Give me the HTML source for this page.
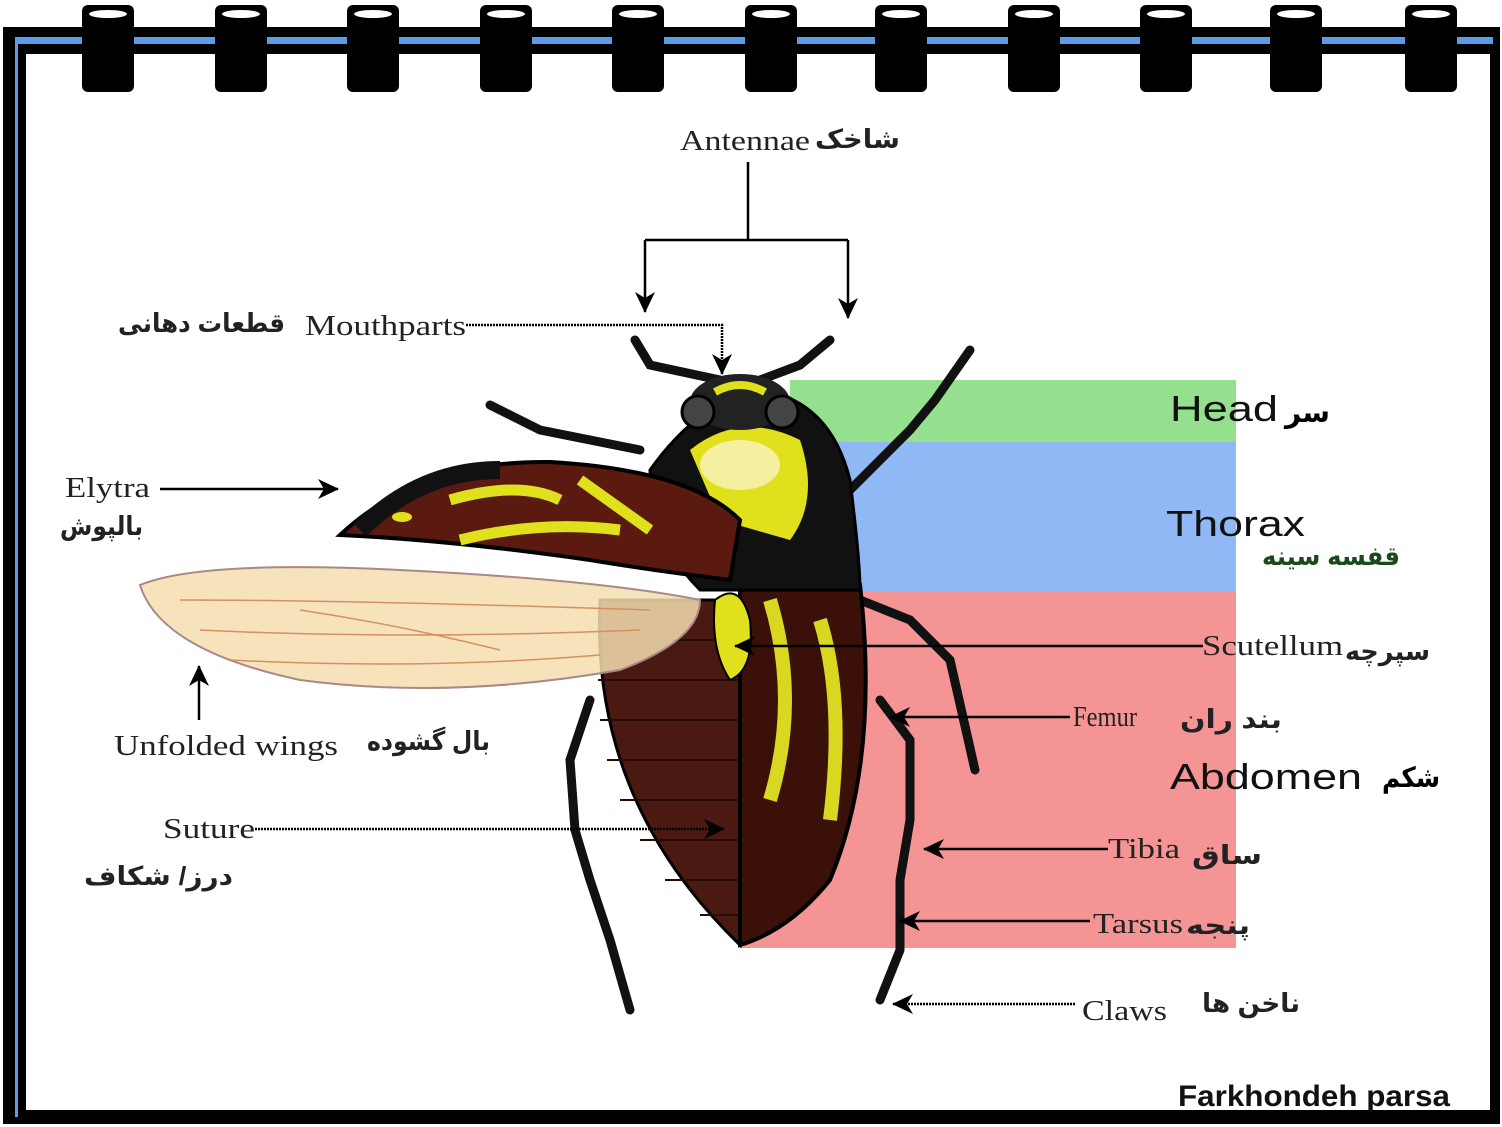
<!DOCTYPE html>
<html><head><meta charset="utf-8"><style>
html,body{margin:0;padding:0;background:#fff;width:1502px;height:1127px;overflow:hidden}
svg{display:block}
text{font-family:"Liberation Serif",serif;}
.fa{font-family:"Liberation Sans","DejaVu Sans",sans-serif;font-weight:bold}
.ss{font-family:"Liberation Sans",sans-serif}
</style></head><body>
<svg width="1502" height="1127" viewBox="0 0 1502 1127" xmlns="http://www.w3.org/2000/svg">
<defs>
<marker id="ar" markerWidth="22" markerHeight="22" refX="20" refY="11" orient="auto" markerUnits="userSpaceOnUse">
<path d="M0,1 L21,11 L0,21 L6,11 Z" fill="#000"/></marker>
</defs>
<rect x="0" y="0" width="1502" height="1127" fill="#fff"/>
<path d="M3,27 H1500 V1124 H3 Z M26,54 V1110 H1490 V54 Z" fill="#000" fill-rule="evenodd"/>
<rect x="15" y="37" width="1478" height="7" fill="#5b9bea"/>
<rect x="15" y="37" width="3" height="1080" fill="#5b9bea"/>
<g fill="#000">
<g id="r"><rect x="82" y="5" width="52" height="87" rx="6"/><ellipse cx="108" cy="14" rx="19" ry="4" fill="#fff"/></g>
<use href="#r" x="133"/><use href="#r" x="265"/><use href="#r" x="398"/><use href="#r" x="530"/>
<use href="#r" x="663"/><use href="#r" x="793"/><use href="#r" x="926"/><use href="#r" x="1058"/>
<use href="#r" x="1188"/><use href="#r" x="1323"/>
</g>
<rect x="790" y="380" width="446" height="62" fill="#95e08f"/>
<rect x="790" y="442" width="446" height="150" fill="#8fb8f5"/>
<rect x="740" y="592" width="496" height="356" fill="#f59494"/>
<g stroke="#111" stroke-width="9" fill="none" stroke-linecap="round">
<path d="M720,380 L650,365 L635,340"/>
<path d="M760,380 L800,365 L830,340"/>
<path d="M640,450 L540,430 L490,405"/>
<path d="M850,490 L910,430 L935,400 L970,350"/>
<path d="M860,600 L910,620 L950,660 L975,770"/>
<path d="M880,700 L910,740 L910,820 L900,880 L900,950 L880,1000"/>
<path d="M590,700 L570,760 L575,830 L590,880 L610,940 L630,1010"/>
</g>
<path d="M600,600 Q590,800 740,945 L740,600 Z" fill="#4a1a12" stroke="#000" stroke-width="3"/>
<g stroke="#2a0a05" stroke-width="2">
<line x1="600" y1="640" x2="740" y2="640"/><line x1="598" y1="680" x2="740" y2="680"/><line x1="600" y1="720" x2="740" y2="720"/>
<line x1="607" y1="760" x2="740" y2="760"/><line x1="620" y1="800" x2="740" y2="800"/><line x1="640" y1="840" x2="740" y2="840"/>
<line x1="665" y1="880" x2="740" y2="880"/><line x1="700" y1="915" x2="740" y2="915"/>
</g>
<path d="M740,590 L860,585 Q880,760 830,880 Q790,930 740,945 Z" fill="#3a1008" stroke="#000" stroke-width="4"/>
<path d="M770,600 Q800,700 770,800 M820,620 Q845,700 830,820" stroke="#d8d820" stroke-width="14" fill="none"/>
<path d="M650,470 Q700,400 760,390 Q830,400 850,480 Q860,560 860,590 L700,590 Q650,540 650,470 Z" fill="#111" stroke="#000" stroke-width="3"/>
<path d="M690,450 Q740,410 800,440 Q820,500 790,540 L720,520 Z" fill="#e0e01c"/>
<ellipse cx="740" cy="465" rx="40" ry="25" fill="#f5f0a0"/>
<ellipse cx="740" cy="402" rx="50" ry="28" fill="#222"/>
<circle cx="698" cy="412" r="16" fill="#444" stroke="#000" stroke-width="3"/>
<circle cx="782" cy="412" r="16" fill="#444" stroke="#000" stroke-width="3"/>
<path d="M715,392 Q740,378 765,392" stroke="#e0e01c" stroke-width="8" fill="none"/>
<path d="M340,535 Q420,460 550,462 Q690,470 740,520 L730,580 Q650,570 590,560 Q450,540 340,535 Z" fill="#5a1a10" stroke="#000" stroke-width="4"/>
<path d="M360,530 Q420,470 500,470" stroke="#111" stroke-width="18" fill="none"/>
<path d="M450,500 Q520,480 560,500 M580,480 L650,530 M460,540 Q540,520 620,530" stroke="#e0e01c" stroke-width="11" fill="none"/>
<ellipse cx="402" cy="517" rx="10" ry="5" fill="#e0e01c"/>
<path d="M140,585 Q200,560 400,570 Q600,580 700,600 Q700,640 620,670 Q450,700 300,680 Q160,650 140,585 Z" fill="#f5deb0" fill-opacity="0.85" stroke="#a88" stroke-width="2"/>
<g stroke="#d49060" stroke-width="1.5" fill="none">
<path d="M180,600 Q350,600 650,610"/><path d="M200,630 Q400,640 640,630"/><path d="M230,660 Q420,670 600,655"/><path d="M300,610 Q400,625 500,650"/>
</g>
<path d="M715,600 Q740,580 750,620 Q755,670 730,680 Q710,650 715,600 Z" fill="#e0e01c" stroke="#000" stroke-width="2"/>
<g stroke="#000" stroke-width="2.5" fill="none">
<path d="M748,162 V240"/><path d="M645,240 H848"/>
<path d="M645,240 V312" marker-end="url(#ar)"/><path d="M848,240 V318" marker-end="url(#ar)"/>
<path d="M466,325 H722 V374" marker-end="url(#ar)" stroke-dasharray="2 1"/>
<path d="M160,489 H338" marker-end="url(#ar)"/>
<path d="M199,720 V666" marker-end="url(#ar)"/>
<path d="M255,829 H724" marker-end="url(#ar)" stroke-dasharray="2 1"/>
<path d="M1203,646 H735" marker-end="url(#ar)"/>
<path d="M1070,717 H890" marker-end="url(#ar)"/>
<path d="M1108,849 H924" marker-end="url(#ar)"/>
<path d="M1090,921 H900" marker-end="url(#ar)"/>
<path d="M1075,1004 H893" marker-end="url(#ar)" stroke-dasharray="2 1"/>
</g>
<g font-size="28" fill="#222" lengthAdjust="spacingAndGlyphs">
<text x="680" y="150" textLength="130" lengthAdjust="spacingAndGlyphs">Antennae</text>
<text class="fa" x="815" y="148" font-size="26" textLength="85" lengthAdjust="spacingAndGlyphs">شاخک</text>
<text x="305" y="335" textLength="161" lengthAdjust="spacingAndGlyphs">Mouthparts</text>
<text class="fa" x="118" y="332" font-size="26" textLength="167" lengthAdjust="spacingAndGlyphs">قطعات دهانی</text>
<text x="65" y="497" textLength="85" lengthAdjust="spacingAndGlyphs">Elytra</text>
<text class="fa" x="60" y="535" font-size="26" textLength="83" lengthAdjust="spacingAndGlyphs">بالپوش</text>
<text x="114" y="755" textLength="224" lengthAdjust="spacingAndGlyphs">Unfolded wings</text>
<text class="fa" x="367" y="750" font-size="26" textLength="123" lengthAdjust="spacingAndGlyphs">بال گشوده</text>
<text x="163" y="838" textLength="92" lengthAdjust="spacingAndGlyphs">Suture</text>
<text class="fa" x="84" y="885" font-size="26" textLength="149" lengthAdjust="spacingAndGlyphs">درز/ شکاف</text>
<text x="1202" y="655" textLength="141" lengthAdjust="spacingAndGlyphs">Scutellum</text>
<text class="fa" x="1345" y="660" font-size="26" textLength="85" lengthAdjust="spacingAndGlyphs">سپرچه</text>
<text x="1073" y="726" textLength="64" lengthAdjust="spacingAndGlyphs">Femur</text>
<text class="fa" x="1180" y="728" font-size="26" textLength="102" lengthAdjust="spacingAndGlyphs">بند ران</text>
<text x="1108" y="858" textLength="72" lengthAdjust="spacingAndGlyphs">Tibia</text>
<text class="fa" x="1192" y="864" font-size="26" textLength="70" lengthAdjust="spacingAndGlyphs">ساق</text>
<text x="1093" y="933" textLength="90" lengthAdjust="spacingAndGlyphs">Tarsus</text>
<text class="fa" x="1186" y="934" font-size="26" textLength="64" lengthAdjust="spacingAndGlyphs">پنجه</text>
<text x="1082" y="1020" textLength="85" lengthAdjust="spacingAndGlyphs">Claws</text>
<text class="fa" x="1202" y="1012" font-size="26" textLength="98" lengthAdjust="spacingAndGlyphs">ناخن ها</text>
</g>
<g font-size="36" fill="#111">
<text class="ss" x="1170" y="421" textLength="108" lengthAdjust="spacingAndGlyphs">Head</text>
<text class="ss" x="1166" y="536" textLength="139" lengthAdjust="spacingAndGlyphs">Thorax</text>
<text class="ss" x="1170" y="789" textLength="192" lengthAdjust="spacingAndGlyphs">Abdomen</text>
</g>
<text class="fa" x="1285" y="422" font-size="28" textLength="45" lengthAdjust="spacingAndGlyphs">سر</text>
<text class="fa" x="1262" y="565" font-size="26" fill="#1a4a1a" textLength="138" lengthAdjust="spacingAndGlyphs">قفسه سینه</text>
<text class="fa" x="1382" y="787" font-size="28" textLength="58" lengthAdjust="spacingAndGlyphs">شکم</text>
<text class="ss" x="1178" y="1106" font-size="30" font-weight="bold" fill="#111" textLength="272" lengthAdjust="spacingAndGlyphs">Farkhondeh parsa</text>
</svg>
</body></html>
